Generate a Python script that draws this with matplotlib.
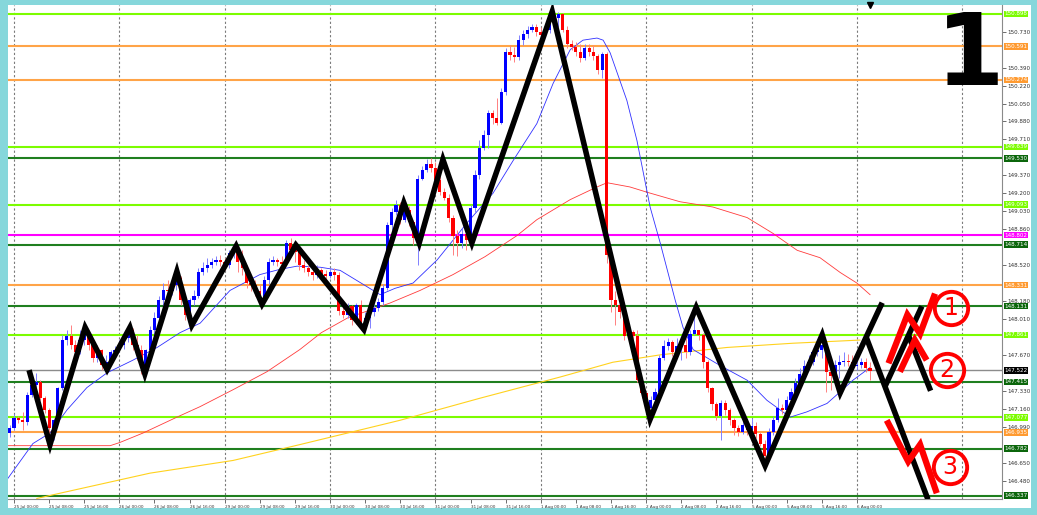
import numpy as np
import matplotlib.pyplot as plt
import matplotlib.transforms as mtransforms

# H1 candles, bar 0 = 25 Jul 00:00 (first bar drawn is -1)
first_bar = -1
first_open = 146.93
closes = [
    146.98, 147.07, 147.05, 147.03, 147.29, 147.38, 147.41, 147.26, 147.15, 146.98,
    147.05, 147.36, 147.81, 147.85, 147.76, 147.70, 147.81, 147.89, 147.76, 147.64,
    147.72, 147.57, 147.60, 147.70, 147.72, 147.76, 147.83, 147.91, 147.76, 147.72,
    147.57, 147.72, 147.91, 148.02, 148.19, 148.28, 148.27, 148.33, 148.40, 148.19,
    148.05, 148.19, 148.23, 148.45, 148.49, 148.52, 148.55, 148.57, 148.55, 148.52,
    148.63, 148.66, 148.55, 148.49, 148.35, 148.33, 148.27, 148.21, 148.38, 148.55,
    148.57, 148.55, 148.53, 148.73, 148.66, 148.64, 148.52, 148.49, 148.45, 148.43,
    148.47, 148.44, 148.42, 148.45, 148.43, 148.09, 148.05, 148.13, 148.00, 148.14,
    147.95, 148.02, 148.08, 148.11, 148.17, 148.30, 148.90, 149.02, 149.09, 148.95,
    149.04, 148.93, 148.78, 149.34, 149.42, 149.48, 149.44, 149.33, 149.21, 149.16,
    148.97, 148.80, 148.73, 148.81, 148.76, 149.06, 149.37, 149.63, 149.75, 149.96,
    149.91, 149.87, 150.16, 150.54, 150.51, 150.49, 150.65, 150.71, 150.75, 150.77,
    150.73, 150.70, 150.75, 150.89, 150.86, 150.90, 150.75, 150.61, 150.59, 150.54,
    150.48, 150.58, 150.54, 150.50, 150.37, 150.52, 148.62, 148.19, 148.14, 148.08,
    147.85, 147.89, 147.85, 147.43, 147.31, 147.17, 147.24, 147.32, 147.64, 147.75,
    147.79, 147.70, 147.75, 147.76, 147.70, 147.87, 147.91, 147.86, 147.60, 147.36,
    147.20, 147.09, 147.21, 147.15, 147.05, 146.98, 146.94, 147.01, 146.96, 147.00,
    146.92, 146.83, 146.71, 146.94, 147.05, 147.17, 147.15, 147.24, 147.32, 147.40,
    147.49, 147.56, 147.60, 147.70, 147.72, 147.76, 147.51, 147.47, 147.57, 147.60,
    147.61, 147.60, 147.56, 147.57, 147.60, 147.55, 147.52,
]
highs = [
    147.01, 147.11, 147.09, 147.13, 147.32, 147.45, 147.50, 147.43, 147.28, 147.17,
    147.07, 147.37, 147.86, 147.91, 147.95, 147.81, 147.91, 147.94, 147.91, 147.78,
    147.76, 147.73, 147.67, 147.72, 147.75, 147.81, 147.88, 147.94, 147.92, 147.86,
    147.76, 147.73, 147.94, 148.08, 148.23, 148.35, 148.38, 148.40, 148.47, 148.42,
    148.21, 148.21, 148.28, 148.49, 148.55, 148.59, 148.59, 148.61, 148.62, 148.59,
    148.66, 148.71, 148.70, 148.66, 148.52, 148.42, 148.38, 148.33, 148.42, 148.59,
    148.61, 148.59, 148.61, 148.76, 148.78, 148.74, 148.68, 148.57, 148.52, 148.49,
    148.52, 148.49, 148.47, 148.49, 148.49, 148.45, 148.14, 148.16, 148.14, 148.16,
    148.19, 148.08, 148.11, 148.15, 148.21, 148.34, 148.93, 149.06, 149.14, 149.12,
    149.09, 149.08, 148.95, 149.37, 149.46, 149.52, 149.53, 149.50, 149.36, 149.25,
    149.19, 148.99, 148.85, 148.87, 148.83, 149.09, 149.42, 149.70, 149.80, 149.99,
    149.99, 150.10, 150.20, 150.58, 150.60, 150.59, 150.70, 150.75, 150.78, 150.80,
    150.80, 150.77, 150.77, 150.92, 150.91, 150.92, 150.91, 150.78, 150.65, 150.63,
    150.61, 150.61, 150.61, 150.60, 150.52, 150.54, 150.54, 148.62, 148.27, 148.19,
    148.09, 147.92, 147.91, 147.91, 147.45, 147.32, 147.28, 147.36, 147.67, 147.81,
    147.83, 147.81, 147.83, 147.81, 147.83, 147.91, 148.09, 147.91, 147.88, 147.62,
    147.37, 147.22, 147.24, 147.24, 147.17, 147.07, 147.01, 147.05, 147.05, 147.07,
    147.03, 146.94, 146.86, 146.98, 147.09, 147.26, 147.20, 147.28, 147.36, 147.45,
    147.55, 147.62, 147.67, 147.73, 147.75, 147.85, 147.78, 147.55, 147.62, 147.67,
    147.70, 147.68, 147.67, 147.70, 147.64, 147.64, 147.60,
]
lows = [
    146.89, 146.96, 147.02, 146.96, 147.01, 147.27, 147.36, 147.24, 147.12, 146.83,
    146.86, 147.03, 147.34, 147.76, 147.73, 147.66, 147.68, 147.76, 147.72, 147.60,
    147.60, 147.53, 147.51, 147.57, 147.66, 147.70, 147.73, 147.79, 147.72, 147.62,
    147.49, 147.53, 147.67, 147.86, 147.98, 148.11, 148.23, 148.24, 148.28, 148.14,
    148.00, 147.95, 148.14, 148.21, 148.43, 148.45, 148.49, 148.52, 148.51, 148.47,
    148.49, 148.59, 148.45, 148.43, 148.30, 148.27, 148.23, 148.17, 148.15, 148.34,
    148.52, 148.51, 148.49, 148.53, 148.61, 148.55, 148.47, 148.45, 148.42, 148.38,
    148.40, 148.40, 148.38, 148.40, 148.38, 148.05, 148.02, 148.02, 147.95, 147.96,
    147.91, 147.89, 147.92, 148.04, 148.09, 148.14, 148.28, 148.85, 148.99, 148.91,
    148.93, 148.89, 148.71, 148.52, 149.33, 149.40, 149.40, 149.29, 149.18, 149.14,
    148.93, 148.62, 148.61, 148.68, 148.66, 148.71, 149.02, 149.34, 149.61, 149.63,
    149.86, 149.85, 149.86, 150.13, 150.46, 150.44, 150.46, 150.60, 150.67, 150.73,
    150.69, 150.67, 150.68, 150.72, 150.75, 150.77, 150.73, 150.58, 150.56, 150.50,
    150.44, 150.46, 150.50, 150.46, 150.33, 150.29, 148.54, 148.08, 147.95, 148.02,
    147.81, 147.81, 147.81, 147.41, 147.26, 147.13, 147.05, 147.20, 147.29, 147.62,
    147.72, 147.66, 147.68, 147.62, 147.64, 147.67, 147.86, 147.81, 147.55, 147.32,
    147.15, 147.05, 146.86, 147.10, 147.01, 146.91, 146.90, 146.92, 146.91, 146.94,
    146.88, 146.81, 146.62, 146.67, 146.91, 147.03, 147.11, 147.13, 147.20, 147.29,
    147.38, 147.45, 147.53, 147.57, 147.66, 147.64, 147.32, 147.34, 147.43, 147.45,
    147.56, 147.56, 147.53, 147.53, 147.55, 147.51, 147.43,
]

# moving averages (bar position, price)
blue_ma_pos = [-1.4, 4.3, 8.2, 12.1, 16.6, 21.2, 27.1, 32.6, 37.8, 42.4, 49.2, 56.0, 60.6,
               64.5, 69.7, 74.3, 83.4, 86.8, 90.9, 96.4, 103.2, 109.1, 113.7, 119.1, 122.8,
               126.7, 129.6, 132.8, 134.2, 135.8, 139.6, 141.9, 144.9, 147.2, 150.6, 152.4,
               154.7, 160.8, 167.0, 171.5, 176.8, 180.6, 185.2, 188.2, 191.1, 195.0]
blue_ma = [146.50, 146.83, 146.93, 147.15, 147.36, 147.50, 147.62, 147.74, 147.88, 147.97,
           148.28, 148.43, 148.48, 148.51, 148.50, 148.47, 148.24, 148.30, 148.35, 148.57,
           148.92, 149.20, 149.51, 149.86, 150.24, 150.56, 150.65, 150.67, 150.65, 150.53,
           150.08, 149.70, 149.07, 148.73, 148.19, 147.93, 147.72, 147.57, 147.43, 147.24,
           147.08, 147.13, 147.21, 147.32, 147.43, 147.55]
red_ma_pos = [-1.4, 21.9, 24.1, 29.4, 37.1, 42.4, 49.9, 57.6, 65.1, 70.0, 76.0, 85.6, 92.5,
              100.0, 107.3, 114.6, 119.1, 126.7, 132.8, 135.1, 140.3, 144.2, 151.7, 159.2,
              167.0, 172.9, 178.4, 183.6, 188.2, 192.0, 195.0]
red_ma = [146.81, 146.81, 146.84, 146.93, 147.08, 147.18, 147.34, 147.51, 147.72, 147.88,
          148.02, 148.16, 148.28, 148.43, 148.60, 148.80, 148.95, 149.14, 149.26, 149.30,
          149.26, 149.21, 149.12, 149.07, 148.97, 148.82, 148.66, 148.59, 148.45, 148.35,
          148.24]
yellow_ma_pos = [5.2, 10.5, 31.0, 49.9, 65.1, 87.9, 106.2, 124.4, 136.4, 147.2, 162.4, 177.4, 192.7]
yellow_ma = [146.31, 146.36, 146.55, 146.67, 146.82, 147.05, 147.26, 147.46, 147.60, 147.67,
             147.74, 147.78, 147.81]

# horizontal levels
level_prices = [150.898, 150.591, 150.274, 149.639, 149.530, 149.093, 148.802, 148.714,
                148.331, 148.131, 147.861, 147.522, 147.415, 147.077, 146.935, 146.782, 146.337]
level_kinds = ['lime', 'orange', 'orange', 'lime', 'green', 'lime', 'magenta', 'green',
               'orange', 'green', 'lime', 'price', 'green', 'lime', 'orange', 'green', 'green']

# zigzag and projections
zz_pos = [3.6, 8.2, 16.2, 21.2, 26.4, 29.8, 37.1, 40.5, 50.6, 56.5, 64.2, 79.7, 88.8,
          92.3, 97.7, 104.3, 122.6, 144.9, 155.4, 171.1, 184.1, 188.2, 197.5]
zz_price = [147.50, 146.82, 147.93, 147.53, 147.93, 147.49, 148.46, 147.95, 148.70, 148.15,
            148.71, 147.91, 149.11, 148.73, 149.52, 148.73, 150.92, 147.06, 148.12, 146.62,
            147.86, 147.31, 148.14]
proj_lines = [([194.1, 208.2], [147.84, 146.30]),
              ([198.4, 206.8], [147.37, 148.13]),
              ([203.7, 208.8], [147.86, 147.33])]
scenario_lines = [([199.2, 203.5, 206.4, 209.8], [147.59, 148.05, 147.87, 148.25]),
                  ([201.8, 205.2, 207.9], [147.51, 147.81, 147.62]),
                  ([198.8, 203.7, 206.4, 210.2], [147.05, 146.66, 146.82, 146.36])]
scenario_pos = [213.4, 212.5, 213.2]
scenario_price = [148.11, 147.53, 146.61]
scenario_names = ['1', '2', '3']

day_starts = [0, 24, 48, 72, 96, 120, 144, 168, 192, 216]
xtick_pos = list(range(0, 193, 8))
xtick_labels = ['25 Jul 00:00', '25 Jul 08:00', '25 Jul 16:00', '26 Jul 00:00', '26 Jul 08:00',
                '26 Jul 16:00', '29 Jul 00:00', '29 Jul 08:00', '29 Jul 16:00', '30 Jul 00:00',
                '30 Jul 08:00', '30 Jul 16:00', '31 Jul 00:00', '31 Jul 08:00', '31 Jul 16:00',
                '1 Aug 00:00', '1 Aug 08:00', '1 Aug 16:00', '2 Aug 00:00', '2 Aug 08:00',
                '2 Aug 16:00', '5 Aug 00:00', '5 Aug 08:00', '5 Aug 16:00', '6 Aug 00:00']
price_ticks = [146.48, 146.65, 146.82, 146.99, 147.16, 147.33, 147.50, 147.67, 147.84,
               148.01, 148.18, 148.35, 148.52, 148.69, 148.86, 149.03, 149.20, 149.37,
               149.54, 149.71, 149.88, 150.05, 150.22, 150.39, 150.56, 150.73]

line_colors = {'lime': '#7cfc00', 'orange': '#ffa448', 'green': '#1f7f1f',
               'magenta': '#ff00ff', 'price': '#8c8c8c'}
box_colors = {'lime': '#7cfc00', 'orange': '#ff9a30', 'green': '#0b660b',
              'magenta': '#ff00ff', 'price': '#000000'}

W, H = 1037, 515
fig = plt.figure(figsize=(W / 100, H / 100), dpi=100)
fig.patch.set_facecolor('#86d7db')
fig.add_artist(plt.Rectangle((8 / W, 7 / H), 1023 / W, 503 / H, transform=fig.transFigure,
                             facecolor='white', edgecolor='none', zorder=-1))
ax = fig.add_axes([8 / W, 16 / H, 994 / W, 494 / H])
ax.set_xlim(-1.37, 225.06)
ax.set_ylim(146.305, 150.983)

# period separators
for d in day_starts:
    ax.axvline(d, color='#7a7a7a', lw=0.8, ls=(0, (2, 2)), zorder=0.5)

# levels
for p, k in zip(level_prices, level_kinds):
    ax.axhline(p, color=line_colors[k], lw=1.5 if k != 'price' else 1.0, zorder=1)

# moving averages
ax.plot(yellow_ma_pos, yellow_ma, color='#ffd21e', lw=0.8, zorder=2)
ax.plot(red_ma_pos, red_ma, color='#ff3b3b', lw=0.6, zorder=2)
ax.plot(blue_ma_pos, blue_ma, color='#3030ff', lw=0.6, zorder=2)

# candles
c = np.array(closes)
o = np.array([first_open] + closes[:-1])
pos = np.arange(len(c)) + first_bar
hi = np.maximum(np.array(highs), np.maximum(o, c))
lo = np.minimum(np.array(lows), np.minimum(o, c))
bull = c > o
ax.vlines(pos, lo, hi, colors=np.where(bull, '#8080ff', '#ff8080'), lw=0.7, zorder=3)
ax.bar(pos, np.maximum(np.abs(c - o), 0.006), bottom=np.minimum(o, c), width=0.72,
       color=np.where(bull, '#0000ff', '#ff0000'), lw=0, zorder=4)

# zigzag + scenarios
ax.plot(zz_pos, zz_price, color='black', lw=4, solid_joinstyle='miter', zorder=6)
for xs, ys in proj_lines:
    ax.plot(xs, ys, color='black', lw=4, solid_capstyle='butt', zorder=6)
for xs, ys in scenario_lines:
    ax.plot(xs, ys, color='#ff0000', lw=4.5, solid_joinstyle='miter', solid_capstyle='butt', zorder=7)
ax.plot(scenario_pos, scenario_price, ls='none', marker='o', ms=24, mfc='none', mec='#ff0000',
        mew=2.8, zorder=7)
for x, y, t in zip(scenario_pos, scenario_price, scenario_names):
    ax.text(x, y, t, color='#ff0000', fontsize=17, ha='center', va='center', zorder=8)

# shift marker
ax.plot([195], [150.983], marker='v', color='black', ms=4, clip_on=False, zorder=8)

# axes styling
for s in ['left', 'top']:
    ax.spines[s].set_visible(False)
for s in ['right', 'bottom']:
    ax.spines[s].set_color('#8a8a8a')
ax.yaxis.tick_right()
# price labels that sit under a level box are covered in the terminal, so leave them out
shown_ticks = [t for t in price_ticks if min(abs(t - p) for p in level_prices) > 0.045]
ax.set_yticks(shown_ticks)
ax.set_yticklabels(['%.3f' % v for v in shown_ticks])
ax.tick_params(axis='y', length=3, width=0.6, pad=1, labelsize=4.1, color='#555555',
               labelcolor='#333333')
ax.set_xticks(xtick_pos)
ax.set_xticklabels(xtick_labels)
for lab in ax.get_xticklabels():
    lab.set_horizontalalignment('left')
ax.tick_params(axis='x', length=3, width=0.6, pad=1.0, labelsize=3.0, color='#555555',
               labelcolor='#333333')

# level price boxes on the right axis
trans = mtransforms.blended_transform_factory(ax.transAxes, ax.transData)
for p, k in zip(level_prices, level_kinds):
    ax.text(1.0022, p, '%.3f' % p, transform=trans, fontsize=4.1, color='white',
            ha='left', va='center', clip_on=False, zorder=10,
            bbox=dict(boxstyle='square,pad=0.12', fc=box_colors[k], ec='none'))

fig.text(970 / W, 1 - 85 / H, '1', fontsize=71, fontweight='bold', ha='center',
         va='baseline', color='black')

fig.savefig('out.png', dpi=100, facecolor=fig.get_facecolor())
